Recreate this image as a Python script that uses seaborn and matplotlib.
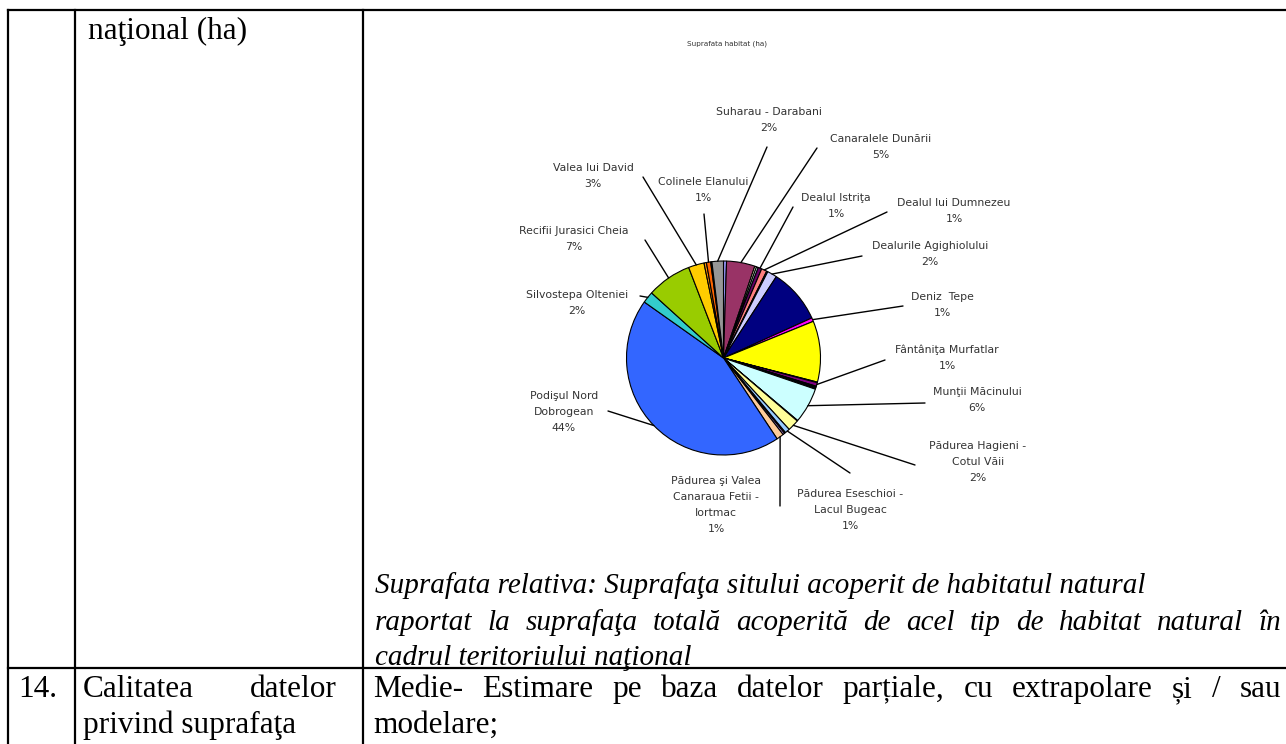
import matplotlib
matplotlib.use("Agg")
import numpy as np
import matplotlib.pyplot as plt
import seaborn as sns

# share of habitat area per site, Excel order (clockwise from 12 o'clock)
site_names = [
    "", "Canaralele Dunării", "", "", "Dealul Istriţa", "Dealul lui Dumnezeu", "",
    "Dealurile Agighiolului", "", "Deniz  Tepe", "", "", "Fântâniţa Murfatlar",
    "", "", "", "", "Munţii Măcinului", "", "Pădurea Hagieni -\nCotul Văii",
    "Pădurea Eseschioi -\nLacul Bugeac", "", "",
    "Pădurea şi Valea\nCanaraua Fetii -\nIortmac", "Podişul Nord\nDobrogean",
    "Silvostepa Olteniei", "Recifii Jurasici Cheia", "Valea lui David", "",
    "Colinele Elanului", "", "Suharau - Darabani",
]
area_share = [0.5, 4.7, 0.3, 0.3, 0.6, 0.9, 0.2, 1.6, 9.0, 0.6, 10.1, 0.1, 0.6,
              0.1, 0.1, 0.2, 0.1, 5.9, 0.1, 1.9, 0.8, 0.2, 0.3, 1.2, 43.8,
              1.9, 7.4, 2.6, 0.4, 0.7, 0.2, 1.9]

chart_title = "Suprafata habitat (ha)"

# default Excel 2003 series colours
excel_colors = ["#9999FF", "#993366", "#FFFFCC", "#CCFFFF", "#660066", "#FF8080",
                "#0066CC", "#CCCCFF", "#000080", "#FF00FF", "#FFFF00", "#00FFFF",
                "#800080", "#800000", "#008080", "#0000FF", "#00CCFF", "#CCFFFF",
                "#CCFFCC", "#FFFF99", "#99CCFF", "#FF99CC", "#CC99FF", "#FFCC99",
                "#3366FF", "#33CCCC", "#99CC00", "#FFCC00", "#FF9900", "#FF6600",
                "#666699", "#969696"]

# label centre and leader-line end (page pixels), per labelled slice
label_place = {
    1: ((881, 147), (817, 148)),
    4: ((836, 206), (793, 207)),
    5: ((954, 211), (887, 212)),
    7: ((930, 254), (862, 256)),
    9: ((942, 305), (903, 306)),
    12: ((947, 358), (885, 360)),
    17: ((977, 400), (925, 403)),
    19: ((978, 462), (915, 465)),
    20: ((850, 510), (850, 473)),
    23: ((716, 505), (780, 506)),
    24: ((564, 412), (608, 411)),
    25: ((577, 303), (640, 296)),
    26: ((574, 239), (645, 240)),
    27: ((593, 176), (643, 177)),
    29: ((703, 190), (704, 214)),
    31: ((769, 120), (767, 147)),
}

W, H = 1286, 744
sns.set_theme(style="white")
plt.rcParams['font.family'] = ['Liberation Serif', 'DejaVu Sans']

fig = plt.figure(figsize=(W / 100, H / 100), dpi=100)
ax = fig.add_axes([0, 0, 1, 1])


def Y(y):
    return H - y


# pie (center / radius in page pixels)
cx, cy, rad = 723.5, 358, 97
wedges, _ = ax.pie(area_share, colors=excel_colors, startangle=90,
                   counterclock=False, center=(cx, Y(cy)), radius=rad,
                   wedgeprops=dict(edgecolor="black", linewidth=0.8))
ax.set_aspect("auto")
ax.set_xlim(0, W)
ax.set_ylim(0, H)
ax.axis("off")

total = sum(area_share)
lab_font = dict(family="DejaVu Sans", size=7.8, color="#333333")
for i, (txt_xy, end_xy) in label_place.items():
    w = wedges[i]
    mid = np.deg2rad((w.theta1 + w.theta2) / 2)
    rx, ry = cx + rad * np.cos(mid), Y(cy) + rad * np.sin(mid)
    ax.plot([rx, end_xy[0]], [ry, Y(end_xy[1])], color="black", lw=1.0)
    pct = f"{round(area_share[i] / total * 100)}%"
    ax.text(txt_xy[0], Y(txt_xy[1]), site_names[i] + "\n" + pct, ha="center",
            va="center", multialignment="center", linespacing=1.75, **lab_font)

ax.text(727, Y(44), chart_title, ha="center", va="center",
        family="DejaVu Sans", size=5.2, color="#333333")

# document table around the chart
line_kw = dict(color="black", lw=1.6, solid_capstyle="projecting")
ax.plot([8, W], [Y(10), Y(10)], **line_kw)
ax.plot([8, W], [Y(668), Y(668)], **line_kw)
for x in [8, 75, 363]:
    ax.plot([x, x], [Y(10), 0], **line_kw)

serif = dict(family="Liberation Serif", size=22.5, color="black", va="baseline")
ital = dict(serif, style="italic", size=21)
renderer = fig.canvas.get_renderer()


def justify(words, x0, x1, y, style):
    arts = [ax.text(0, Y(y), w, **style) for w in words]
    widths = [a.get_window_extent(renderer).width for a in arts]
    gap = (x1 - x0 - sum(widths)) / (len(words) - 1)
    x = x0
    for a, w in zip(arts, widths):
        a.set_x(x)
        x += w + gap


ax.text(88, Y(39), "naţional (ha)", **serif)

ax.text(375, Y(593), "Suprafata relativa: Suprafaţa sitului acoperit de habitatul natural", **ital)
justify("raportat la suprafaţa totală acoperită de acel tip de habitat natural în".split(),
        375, 1281, 630, ital)
ax.text(375, Y(665), "cadrul teritoriului naţional", **ital)

ax.text(18, Y(697), "14.", **serif)
justify(["Calitatea", "datelor"], 83, 337, 697, serif)
ax.text(83, Y(733), "privind suprafaţa", **serif)
justify(["Medie-", "Estimare", "pe", "baza", "datelor", "parțiale,", "cu",
         "extrapolare", "și", "/", "sau"], 373, 1281, 697, serif)
ax.text(373, Y(733), "modelare;", **serif)

fig.savefig("out.png", dpi=100)
